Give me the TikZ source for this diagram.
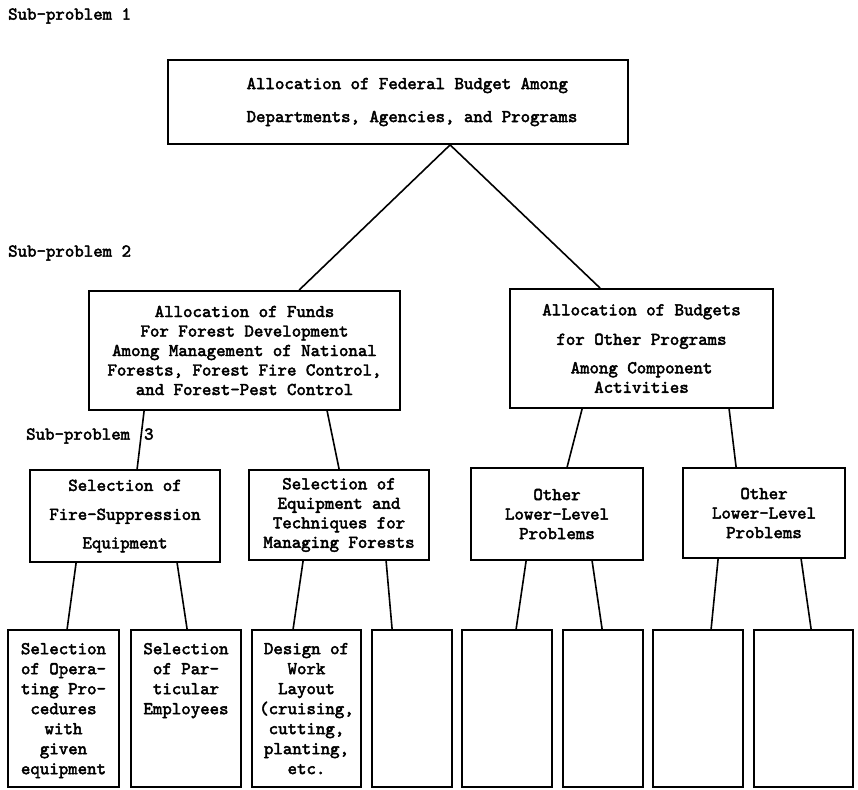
\documentclass[tikz,border=0pt]{standalone}
\usepackage{fontspec}
\newfontfamily\typewriter{lmmono10-regular.otf}[FakeBold=2.6]

\tikzset{
  prob/.style={draw, line width=1.8pt, align=center, inner sep=0pt,
    font=\typewriter\fontsize{18}{19.5}\selectfont},
  leaf/.style={draw, line width=1.8pt, inner sep=0pt, minimum height=157pt,
    font=\typewriter\fontsize{18}{20}\selectfont},
  link/.style={line width=1.6pt},
  lvl/.style={anchor=west, inner sep=0pt, font=\typewriter\fontsize{18}{19.5}\selectfont}
}
\newcommand{\leafbox}[1]{\parbox[c][157pt][t]{106pt}{\centering\vspace*{13pt}#1}}

\begin{document}
\begin{tikzpicture}[x=1pt,y=-1pt]
        \useasboundingbox (0,0) rectangle (858,789);

        % level labels
        \node[lvl] (lvlA) at (8,16) {Sub-problem 1};
        \node[lvl] (lvlB) at (8,253) {Sub-problem 2};
        \node[lvl] (lvlC) at (26,436) {Sub-problem\hspace{14pt}3};

        % sub-problem 1
        \node[prob, align=left, minimum width=460pt, minimum height=84pt] (federal) at (398,102)
          {\hspace*{28pt}Allocation of Federal Budget Among\\[13.5pt]\hspace*{28pt}Departments, Agencies, and Programs};

        % sub-problem 2
        \node[prob, minimum width=311pt, minimum height=119pt] (funds) at (244.5,350.5)
          {Allocation of Funds\\For Forest Development\\Among Management of National\\Forests, Forest Fire Control,\\and Forest-Pest Control};
        \node[prob, minimum width=263pt, minimum height=119pt] (budgets) at (641.5,348.5)
          {Allocation of Budgets\\[10pt]for Other Programs\\[9pt]Among Component\\Activities};

        % sub-problem 3
        \node[prob, minimum width=190pt, minimum height=92pt] (fire) at (125,516)
          {Selection of\\[9.5pt]Fire-Suppression\\[9pt]Equipment};
        \node[prob, minimum width=180pt, minimum height=90pt] (tech) at (339,515)
          {Selection of\\Equipment and\\Techniques for\\Managing Forests};
        \node[prob, minimum width=172pt, minimum height=92pt] (otherA) at (557,514)
          {Other\\Lower-Level\\Problems};
        \node[prob, minimum width=162pt, minimum height=90pt] (otherB) at (764,513)
          {Other\\Lower-Level\\Problems};

        % lowest level
        \node[leaf, minimum width=111pt] (leafA) at (63.5,708.5)
          {\leafbox{Selection\\of Opera-\\ting Pro-\\cedures\\with\\given\\equipment}};
        \node[leaf, minimum width=110pt] (leafB) at (186,708.5)
          {\leafbox{Selection\\of Par-\\ticular\\Employees}};
        \node[leaf, minimum width=109pt] (leafC) at (306.5,708.5)
          {\leafbox{Design of\\Work\\Layout\\(cruising,\\cutting,\\planting,\\etc.}};
        \node[leaf, minimum width=80pt] (leafD) at (412,708.5) {};
        \node[leaf, minimum width=90pt] (leafE) at (507,708.5) {};
        \node[leaf, minimum width=80pt] (leafF) at (603,708.5) {};
        \node[leaf, minimum width=90pt] (leafG) at (698,708.5) {};
        \node[leaf, minimum width=99pt] (leafH) at (803.5,708.5) {};

        % connectors
        \draw[link] ([xshift=283pt]federal.south west) -- ([xshift=211pt]funds.north west);
        \draw[link] ([xshift=283pt]federal.south west) -- ([xshift=91pt]budgets.north west);

        \draw[link] ([xshift=56pt]funds.south west) -- ([xshift=108pt]fire.north west);
        \draw[link] ([xshift=239pt]funds.south west) -- ([xshift=91pt]tech.north west);
        \draw[link] ([xshift=73pt]budgets.south west) -- ([xshift=97pt]otherA.north west);
        \draw[link] ([xshift=220pt]budgets.south west) -- ([xshift=54pt]otherB.north west);

        \draw[link] ([xshift=47pt]fire.south west) -- ([xshift=60pt]leafA.north west);
        \draw[link] ([xshift=148pt]fire.south west) -- ([xshift=57pt]leafB.north west);
        \draw[link] ([xshift=55pt]tech.south west) -- ([xshift=42pt]leafC.north west);
        \draw[link] ([xshift=138pt]tech.south west) -- ([xshift=21pt]leafD.north west);
        \draw[link] ([xshift=56pt]otherA.south west) -- ([xshift=55pt]leafE.north west);
        \draw[link] ([xshift=122pt]otherA.south west) -- ([xshift=40pt]leafF.north west);
        \draw[link] ([xshift=36pt]otherB.south west) -- ([xshift=59pt]leafG.north west);
        \draw[link] ([xshift=119pt]otherB.south west) -- ([xshift=58pt]leafH.north west);

\end{tikzpicture}
\end{document}
